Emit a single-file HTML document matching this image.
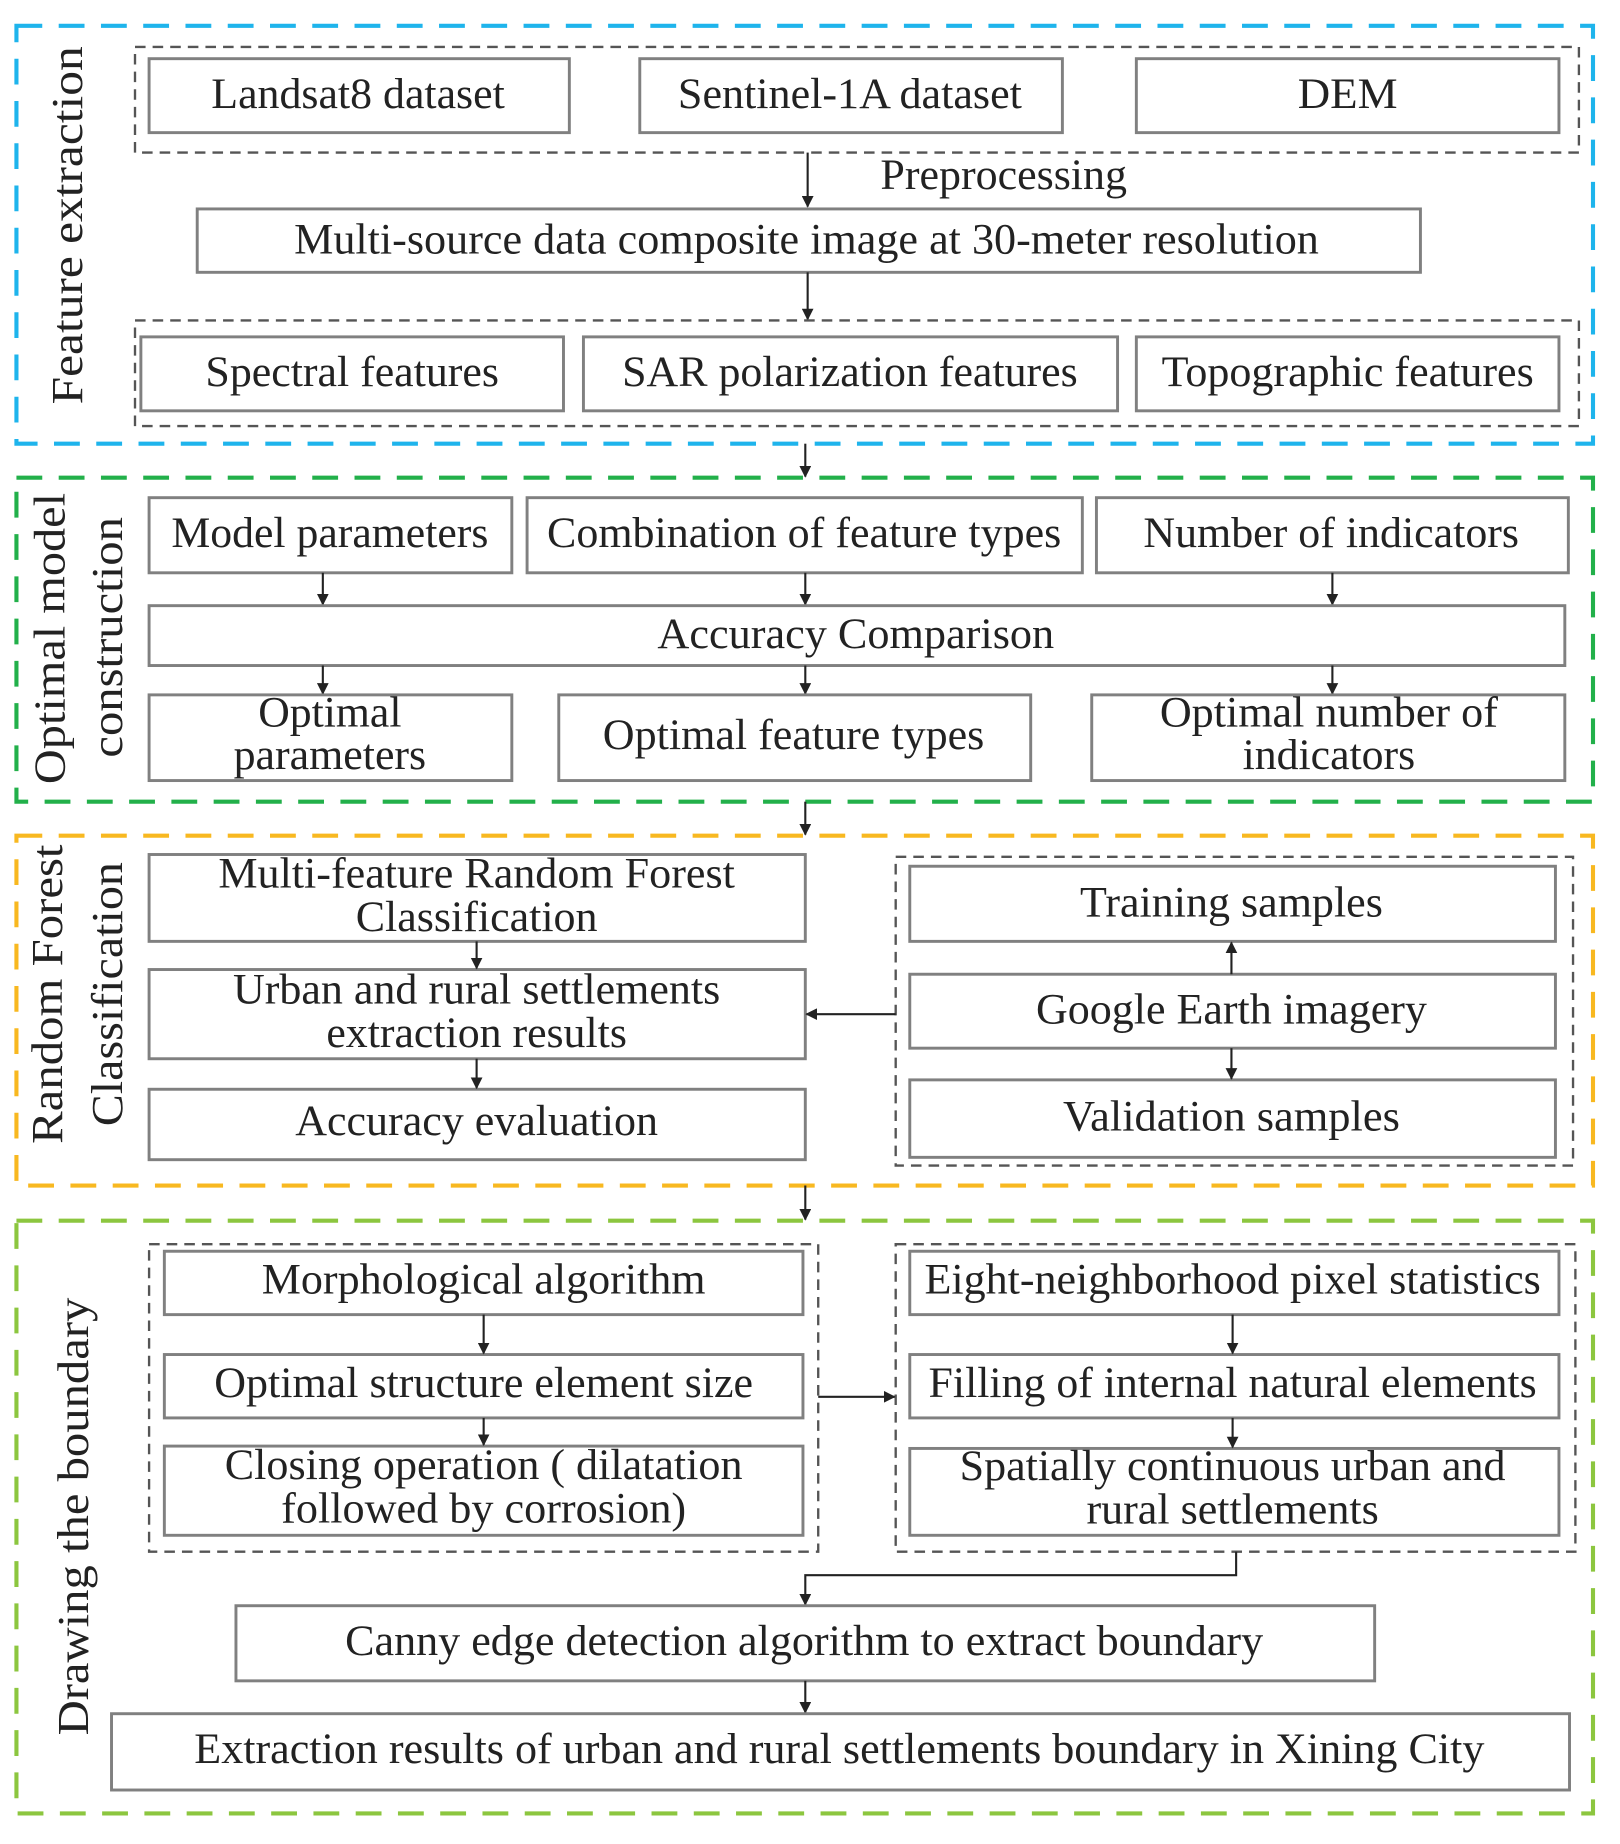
<!DOCTYPE html>
<html><head><meta charset="utf-8"><style>
html,body{margin:0;padding:0;background:#fff;}
svg{display:block;}
text{font-family:"Liberation Serif",serif;font-size:37px;fill:#222;}
.b{fill:#fff;stroke:#808080;stroke-width:2.5;}
.d{fill:none;stroke:#555;stroke-width:2;stroke-dasharray:9,6;}
.a{stroke:#222;stroke-width:1.8;fill:none;}
</style></head><body>
<svg width="1620" height="1844" viewBox="0 0 1380 1571" preserveAspectRatio="none" xmlns="http://www.w3.org/2000/svg">
<defs><marker id="m" markerWidth="10" markerHeight="10" refX="9" refY="5" orient="auto" markerUnits="userSpaceOnUse"><path d="M0,0 L10,5 L0,10 z" fill="#222"/></marker></defs>

<rect x="14" y="22" width="1343" height="356" fill="none" stroke="#1eb4ec" stroke-width="3.5" stroke-dasharray="22,14"/>
<rect x="14" y="407" width="1343" height="276" fill="none" stroke="#22b04a" stroke-width="3.5" stroke-dasharray="22,14"/>
<rect x="14" y="712" width="1343" height="298" fill="none" stroke="#f8b820" stroke-width="3.5" stroke-dasharray="22,14"/>
<rect x="14" y="1040" width="1343" height="505" fill="none" stroke="#8cc63f" stroke-width="3.5" stroke-dasharray="22,14"/>

<text transform="translate(70,192) rotate(-90)" text-anchor="middle" textLength="305" lengthAdjust="spacingAndGlyphs" style="font-size:38px">Feature extraction</text>
<text transform="translate(55,544) rotate(-90)" text-anchor="middle" textLength="248" lengthAdjust="spacingAndGlyphs" style="font-size:38px">Optimal model</text>
<text transform="translate(104,543) rotate(-90)" text-anchor="middle" textLength="205" lengthAdjust="spacingAndGlyphs" style="font-size:38px">construction</text>
<text transform="translate(53,847) rotate(-90)" text-anchor="middle" textLength="255" lengthAdjust="spacingAndGlyphs" style="font-size:38px">Random Forest</text>
<text transform="translate(104,847) rotate(-90)" text-anchor="middle" textLength="225" lengthAdjust="spacingAndGlyphs" style="font-size:38px">Classification</text>
<text transform="translate(75,1292) rotate(-90)" text-anchor="middle" textLength="373" lengthAdjust="spacingAndGlyphs" style="font-size:38px">Drawing the boundary</text>

<rect class="d" x="115" y="40" width="1230" height="90"/>
<rect class="b" x="127" y="50" width="358" height="63"/>
<rect class="b" x="545" y="50" width="360" height="63"/>
<rect class="b" x="968" y="50" width="360" height="63"/>
<text x="305" y="92" text-anchor="middle" textLength="250" lengthAdjust="spacingAndGlyphs">Landsat8 dataset</text>
<text x="724" y="92" text-anchor="middle" textLength="293" lengthAdjust="spacingAndGlyphs">Sentinel-1A dataset</text>
<text x="1148" y="92" text-anchor="middle" textLength="85" lengthAdjust="spacingAndGlyphs">DEM</text>
<line class="a" x1="688" y1="130" x2="688" y2="176" marker-end="url(#m)"/>
<text x="855" y="161" text-anchor="middle" textLength="210" lengthAdjust="spacingAndGlyphs">Preprocessing</text>
<rect class="b" x="168" y="178" width="1042" height="54"/>
<text x="687" y="216" text-anchor="middle" textLength="873" lengthAdjust="spacingAndGlyphs">Multi-source data composite image at 30-meter resolution</text>
<line class="a" x1="688" y1="232" x2="688" y2="272" marker-end="url(#m)"/>
<rect class="d" x="115" y="273" width="1230" height="90"/>
<rect class="b" x="120" y="287" width="360" height="63"/>
<rect class="b" x="497" y="287" width="455" height="63"/>
<rect class="b" x="968" y="287" width="360" height="63"/>
<text x="300" y="329" text-anchor="middle" textLength="250" lengthAdjust="spacingAndGlyphs">Spectral features</text>
<text x="724" y="329" text-anchor="middle" textLength="388" lengthAdjust="spacingAndGlyphs">SAR polarization features</text>
<text x="1148" y="329" text-anchor="middle" textLength="317" lengthAdjust="spacingAndGlyphs">Topographic features</text>
<line class="a" x1="686" y1="378" x2="686" y2="406" marker-end="url(#m)"/>

<rect class="b" x="127" y="424" width="309" height="64"/>
<rect class="b" x="449" y="424" width="473" height="64"/>
<rect class="b" x="934" y="424" width="402" height="64"/>
<text x="281" y="466" text-anchor="middle" textLength="270" lengthAdjust="spacingAndGlyphs">Model parameters</text>
<text x="685" y="466" text-anchor="middle" textLength="438" lengthAdjust="spacingAndGlyphs">Combination of feature types</text>
<text x="1134" y="466" text-anchor="middle" textLength="320" lengthAdjust="spacingAndGlyphs">Number of indicators</text>
<line class="a" x1="275" y1="488" x2="275" y2="515" marker-end="url(#m)"/>
<line class="a" x1="686" y1="488" x2="686" y2="515" marker-end="url(#m)"/>
<line class="a" x1="1135" y1="488" x2="1135" y2="515" marker-end="url(#m)"/>
<rect class="b" x="127" y="516" width="1206" height="51"/>
<text x="729" y="552" text-anchor="middle" textLength="338" lengthAdjust="spacingAndGlyphs">Accuracy Comparison</text>
<line class="a" x1="275" y1="567" x2="275" y2="591" marker-end="url(#m)"/>
<line class="a" x1="686" y1="567" x2="686" y2="591" marker-end="url(#m)"/>
<line class="a" x1="1135" y1="567" x2="1135" y2="591" marker-end="url(#m)"/>
<rect class="b" x="127" y="592" width="309" height="73"/>
<rect class="b" x="476" y="592" width="402" height="73"/>
<rect class="b" x="930" y="592" width="403" height="73"/>
<text x="281" y="619" text-anchor="middle" textLength="122" lengthAdjust="spacingAndGlyphs">Optimal</text>
<text x="281" y="655" text-anchor="middle" textLength="164" lengthAdjust="spacingAndGlyphs">parameters</text>
<text x="676" y="638" text-anchor="middle" textLength="325" lengthAdjust="spacingAndGlyphs">Optimal feature types</text>
<text x="1132" y="619" text-anchor="middle" textLength="288" lengthAdjust="spacingAndGlyphs">Optimal number of</text>
<text x="1132" y="655" text-anchor="middle" textLength="147" lengthAdjust="spacingAndGlyphs">indicators</text>
<line class="a" x1="686" y1="683" x2="686" y2="711" marker-end="url(#m)"/>

<rect class="b" x="127" y="728" width="559" height="74"/>
<rect class="b" x="127" y="826" width="559" height="76"/>
<rect class="b" x="127" y="928" width="559" height="60"/>
<text x="406" y="756" text-anchor="middle" textLength="440" lengthAdjust="spacingAndGlyphs">Multi-feature Random Forest</text>
<text x="406" y="793" text-anchor="middle" textLength="206" lengthAdjust="spacingAndGlyphs">Classification</text>
<text x="406" y="855" text-anchor="middle" textLength="415" lengthAdjust="spacingAndGlyphs">Urban and rural settlements</text>
<text x="406" y="892" text-anchor="middle" textLength="256" lengthAdjust="spacingAndGlyphs">extraction results</text>
<text x="406" y="967" text-anchor="middle" textLength="309" lengthAdjust="spacingAndGlyphs">Accuracy evaluation</text>
<line class="a" x1="406" y1="802" x2="406" y2="825" marker-end="url(#m)"/>
<line class="a" x1="406" y1="902" x2="406" y2="927" marker-end="url(#m)"/>
<rect class="d" x="763" y="730" width="577" height="263"/>
<rect class="b" x="775" y="738" width="550" height="64"/>
<rect class="b" x="775" y="830" width="550" height="63"/>
<rect class="b" x="775" y="920" width="550" height="66"/>
<text x="1049" y="781" text-anchor="middle" textLength="258" lengthAdjust="spacingAndGlyphs">Training samples</text>
<text x="1049" y="872" text-anchor="middle" textLength="333" lengthAdjust="spacingAndGlyphs">Google Earth imagery</text>
<text x="1049" y="963" text-anchor="middle" textLength="287" lengthAdjust="spacingAndGlyphs">Validation samples</text>
<line class="a" x1="1049" y1="830" x2="1049" y2="803" marker-end="url(#m)"/>
<line class="a" x1="1049" y1="893" x2="1049" y2="919" marker-end="url(#m)"/>
<line class="a" x1="763" y1="864" x2="687" y2="864" marker-end="url(#m)"/>
<line class="a" x1="686" y1="1010" x2="686" y2="1039" marker-end="url(#m)"/>

<rect class="d" x="127" y="1060" width="570" height="262"/>
<rect class="b" x="140" y="1066" width="544" height="54"/>
<rect class="b" x="140" y="1154" width="544" height="54"/>
<rect class="b" x="140" y="1232" width="544" height="76"/>
<text x="412" y="1102" text-anchor="middle" textLength="378" lengthAdjust="spacingAndGlyphs">Morphological algorithm</text>
<text x="412" y="1190" text-anchor="middle" textLength="459" lengthAdjust="spacingAndGlyphs">Optimal structure element size</text>
<text x="412" y="1260" text-anchor="middle" textLength="441" lengthAdjust="spacingAndGlyphs">Closing operation ( dilatation</text>
<text x="412" y="1297" text-anchor="middle" textLength="345" lengthAdjust="spacingAndGlyphs">followed by corrosion)</text>
<line class="a" x1="412" y1="1120" x2="412" y2="1153" marker-end="url(#m)"/>
<line class="a" x1="412" y1="1208" x2="412" y2="1231" marker-end="url(#m)"/>
<rect class="d" x="763" y="1060" width="579" height="262"/>
<rect class="b" x="775" y="1066" width="553" height="54"/>
<rect class="b" x="775" y="1154" width="553" height="54"/>
<rect class="b" x="775" y="1234" width="553" height="74"/>
<text x="1050" y="1102" text-anchor="middle" textLength="525" lengthAdjust="spacingAndGlyphs">Eight-neighborhood pixel statistics</text>
<text x="1050" y="1190" text-anchor="middle" textLength="518" lengthAdjust="spacingAndGlyphs">Filling of internal natural elements</text>
<text x="1050" y="1261" text-anchor="middle" textLength="465" lengthAdjust="spacingAndGlyphs">Spatially continuous urban and</text>
<text x="1050" y="1298" text-anchor="middle" textLength="249" lengthAdjust="spacingAndGlyphs">rural settlements</text>
<line class="a" x1="1050" y1="1120" x2="1050" y2="1153" marker-end="url(#m)"/>
<line class="a" x1="1050" y1="1208" x2="1050" y2="1233" marker-end="url(#m)"/>
<line class="a" x1="697" y1="1190" x2="762" y2="1190" marker-end="url(#m)"/>
<polyline class="a" points="1053,1322 1053,1342 686,1342 686,1367" marker-end="url(#m)"/>
<rect class="b" x="201" y="1368" width="970" height="64"/>
<text x="685" y="1410" text-anchor="middle" textLength="782" lengthAdjust="spacingAndGlyphs">Canny edge detection algorithm to extract boundary</text>
<line class="a" x1="686" y1="1432" x2="686" y2="1459" marker-end="url(#m)"/>
<rect class="b" x="95" y="1460" width="1242" height="65"/>
<text x="715" y="1502" text-anchor="middle" textLength="1099" lengthAdjust="spacingAndGlyphs">Extraction results of urban and rural settlements boundary in Xining City</text>
</svg>
</body></html>
